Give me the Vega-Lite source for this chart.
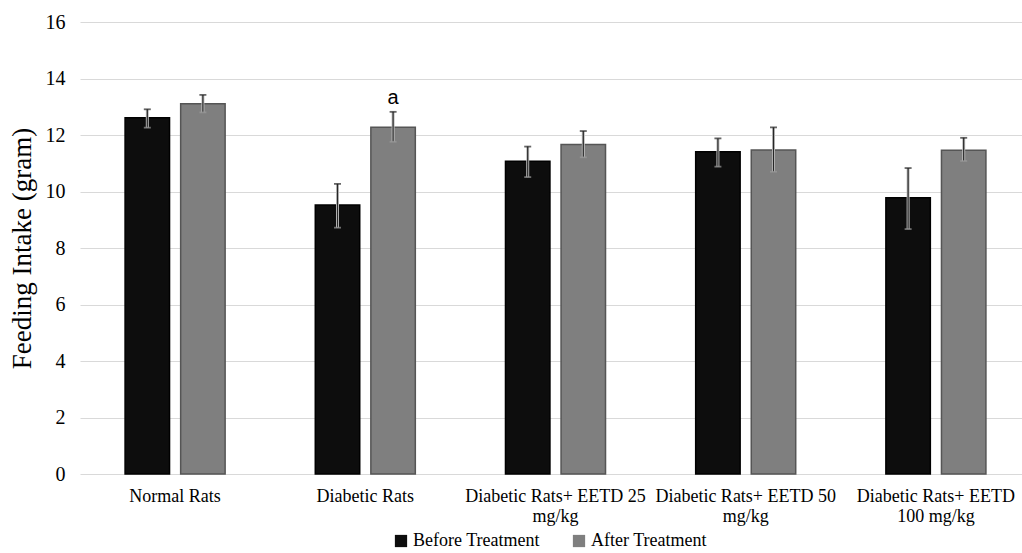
{
  "$schema": "https://vega.github.io/schema/vega-lite/v6.json",
  "width": 940,
  "height": 452,
  "autosize": {"type": "none"},
  "padding": {"left": 80, "top": 22, "right": 2, "bottom": 79},
  "background": "white",
  "config": {"view": {"stroke": null}, "font": "Liberation Serif"},
  "data": {
    "values": [
      {"group": "Normal Rats", "treatment": "Before Treatment", "mean": 12.61, "lo": 12.26, "hi": 12.91, "label": ""},
      {"group": "Normal Rats", "treatment": "After Treatment", "mean": 13.11, "lo": 12.80, "hi": 13.42, "label": ""},
      {"group": "Diabetic Rats", "treatment": "Before Treatment", "mean": 9.52, "lo": 8.72, "hi": 10.27, "label": ""},
      {"group": "Diabetic Rats", "treatment": "After Treatment", "mean": 12.27, "lo": 11.76, "hi": 12.82, "label": "a"},
      {"group": "Diabetic Rats+ EETD 25 mg/kg", "treatment": "Before Treatment", "mean": 11.07, "lo": 10.51, "hi": 11.59, "label": ""},
      {"group": "Diabetic Rats+ EETD 25 mg/kg", "treatment": "After Treatment", "mean": 11.66, "lo": 11.21, "hi": 12.14, "label": ""},
      {"group": "Diabetic Rats+ EETD 50 mg/kg", "treatment": "Before Treatment", "mean": 11.41, "lo": 10.88, "hi": 11.88, "label": ""},
      {"group": "Diabetic Rats+ EETD 50 mg/kg", "treatment": "After Treatment", "mean": 11.47, "lo": 10.70, "hi": 12.27, "label": ""},
      {"group": "Diabetic Rats+ EETD 100 mg/kg", "treatment": "Before Treatment", "mean": 9.78, "lo": 8.67, "hi": 10.83, "label": ""},
      {"group": "Diabetic Rats+ EETD 100 mg/kg", "treatment": "After Treatment", "mean": 11.46, "lo": 11.08, "hi": 11.90, "label": ""}
    ]
  },
  "encoding": {
    "x": {
      "field": "group",
      "type": "nominal",
      "sort": ["Normal Rats", "Diabetic Rats", "Diabetic Rats+ EETD 25 mg/kg", "Diabetic Rats+ EETD 50 mg/kg", "Diabetic Rats+ EETD 100 mg/kg"],
      "scale": {"range": [0, 951], "paddingInner": 0.474, "paddingOuter": 0.237},
      "axis": {
        "title": null,
        "domain": false,
        "ticks": false,
        "grid": false,
        "labelAngle": 0,
        "labelFont": "Liberation Serif",
        "labelFontSize": 18,
        "labelColor": "black",
        "labelPadding": 13,
        "labelLineHeight": 20,
        "labelLimit": 400,
        "labelExpr": "datum.value == 'Diabetic Rats+ EETD 100 mg/kg' ? ['Diabetic Rats+ EETD', '100 mg/kg'] : (indexof(datum.value, 'mg/kg') > 0 ? [replace(datum.value, ' mg/kg', ''), 'mg/kg'] : datum.value)"
      }
    },
    "xOffset": {
      "field": "treatment",
      "type": "nominal",
      "sort": ["Before Treatment", "After Treatment"],
      "scale": {"paddingInner": 0.2, "paddingOuter": 0}
    }
  },
  "layer": [
    {
      "mark": {"type": "bar", "strokeWidth": 1.5},
      "encoding": {
        "y": {
          "field": "mean",
          "type": "quantitative",
          "scale": {"domain": [0, 16], "nice": false},
          "axis": {
            "values": [0, 2, 4, 6, 8, 10, 12, 14, 16],
            "title": "Feeding Intake (gram)",
            "titleFont": "Liberation Serif",
            "titleFontSize": 27,
            "titleFontWeight": "normal",
            "titleColor": "black",
            "titlePadding": 9,
            "labelFont": "Liberation Serif",
            "labelFontSize": 20,
            "labelColor": "black",
            "labelPadding": 15,
            "domain": false,
            "ticks": false,
            "gridColor": "#d9d9d9",
            "gridWidth": 1.2
          }
        },
        "color": {
          "field": "treatment",
          "type": "nominal",
          "scale": {"domain": ["Before Treatment", "After Treatment"], "range": ["#0d0d0d", "#7f7f7f"]},
          "legend": {
            "orient": "none",
            "legendX": 312,
            "legendY": 510,
            "direction": "horizontal",
            "title": null,
            "symbolType": "square",
            "symbolSize": 150,
            "symbolStrokeWidth": 0,
            "labelFont": "Liberation Serif",
            "labelFontSize": 18,
            "labelColor": "black",
            "labelOffset": 3,
            "columnPadding": 30
          }
        },
        "stroke": {
          "field": "treatment",
          "type": "nominal",
          "scale": {"domain": ["Before Treatment", "After Treatment"], "range": ["#000000", "#555555"]},
          "legend": null
        }
      }
    },
    {
      "mark": {"type": "rule", "color": "#bdbdbd", "strokeWidth": 3},
      "encoding": {"y": {"field": "lo", "type": "quantitative"}, "y2": {"field": "hi"}}
    },
    {
      "mark": {"type": "rule", "color": "#262626", "strokeWidth": 1.2},
      "encoding": {"y": {"field": "lo", "type": "quantitative"}, "y2": {"field": "hi"}}
    },
    {
      "mark": {"type": "tick", "orient": "horizontal", "size": 7, "thickness": 1.8, "color": "#262626"},
      "encoding": {"y": {"field": "hi", "type": "quantitative"}}
    },
    {
      "mark": {"type": "tick", "orient": "horizontal", "size": 7, "thickness": 1.8, "color": "#9a9a9a"},
      "encoding": {"y": {"field": "lo", "type": "quantitative"}}
    },
    {
      "transform": [{"filter": "datum.label != ''"}],
      "mark": {"type": "text", "baseline": "bottom", "dy": -4, "font": "Liberation Sans", "fontSize": 20, "color": "black"},
      "encoding": {"y": {"field": "hi", "type": "quantitative"}, "text": {"field": "label"}}
    }
  ]
}
